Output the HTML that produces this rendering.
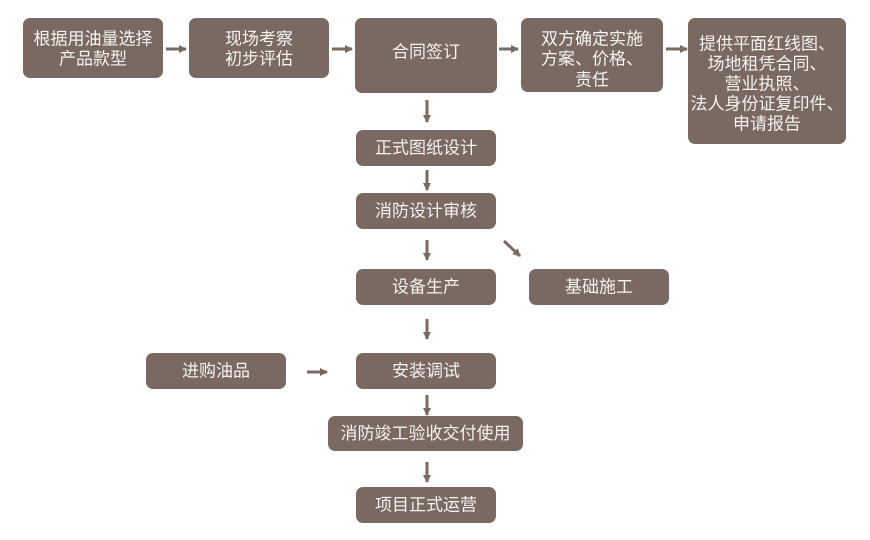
<!DOCTYPE html>
<html><head><meta charset="utf-8"><style>
html,body{margin:0;padding:0;background:#fff;}
svg{display:block;}
text{font-family:"Liberation Sans","Noto Sans CJK SC",sans-serif;font-size:17px;fill:#f6f2f0;text-anchor:middle;dominant-baseline:central;}
</style></head><body>
<svg width="870" height="540" viewBox="0 0 870 540" xmlns="http://www.w3.org/2000/svg">
<defs>
<marker id="ah" viewBox="0 0 8 8" refX="7" refY="4" markerWidth="8" markerHeight="8" markerUnits="userSpaceOnUse" orient="auto">
<path d="M0,0 L8,4 L0,8 Z" fill="#7a6961"/>
</marker>
</defs>
<g fill="#7a6961">
<rect x="23" y="18" width="140" height="60" rx="7"/>
<rect x="189" y="18" width="140" height="60" rx="7"/>
<rect x="355" y="18" width="142" height="75" rx="7"/>
<rect x="521" y="18" width="142" height="74" rx="7"/>
<rect x="688" y="18" width="158" height="126" rx="7"/>
<rect x="356" y="130" width="140" height="36" rx="7"/>
<rect x="356" y="193" width="140" height="36" rx="7"/>
<rect x="356" y="269" width="140" height="36" rx="7"/>
<rect x="529" y="269" width="140" height="36" rx="7"/>
<rect x="146" y="353" width="140" height="36" rx="7"/>
<rect x="356" y="353" width="140" height="36" rx="7"/>
<rect x="328" y="416" width="195" height="35" rx="7"/>
<rect x="356" y="487" width="140" height="36" rx="7"/>
</g>
<g stroke="#7a6961" stroke-width="3" marker-end="url(#ah)">
<line x1="166" y1="49" x2="186" y2="49"/>
<line x1="332" y1="49" x2="352" y2="49"/>
<line x1="499" y1="49" x2="518" y2="49"/>
<line x1="666" y1="49" x2="687" y2="49"/>
<line x1="307" y1="372" x2="327" y2="372"/>
<line x1="427" y1="100" x2="427" y2="122"/>
<line x1="427" y1="170" x2="427" y2="190"/>
<line x1="427" y1="240" x2="427" y2="260"/>
<line x1="427" y1="319" x2="427" y2="339"/>
<line x1="427" y1="395" x2="427" y2="415"/>
<line x1="427" y1="462" x2="427" y2="482"/>
<line x1="504" y1="241" x2="520" y2="256"/>
</g>
<text x="93" y="39">根据用油量选择</text>
<text x="93" y="59">产品款型</text>
<text x="259" y="39">现场考察</text>
<text x="259" y="59">初步评估</text>
<text x="426" y="52">合同签订</text>
<text x="592" y="39">双方确定实施</text>
<text x="592" y="59">方案、价格、</text>
<text x="592" y="80">责任</text>
<text x="767" y="44">提供平面红线图、</text>
<text x="767" y="64">场地租凭合同、</text>
<text x="767" y="84">营业执照、</text>
<text x="767" y="104">法人身份证复印件、</text>
<text x="767" y="124">申请报告</text>
<text x="426" y="148">正式图纸设计</text>
<text x="426" y="211">消防设计审核</text>
<text x="426" y="287">设备生产</text>
<text x="599" y="287">基础施工</text>
<text x="216" y="371">进购油品</text>
<text x="426" y="371">安装调试</text>
<text x="425.5" y="433.5">消防竣工验收交付使用</text>
<text x="426" y="505">项目正式运营</text>
</svg>
</body></html>
